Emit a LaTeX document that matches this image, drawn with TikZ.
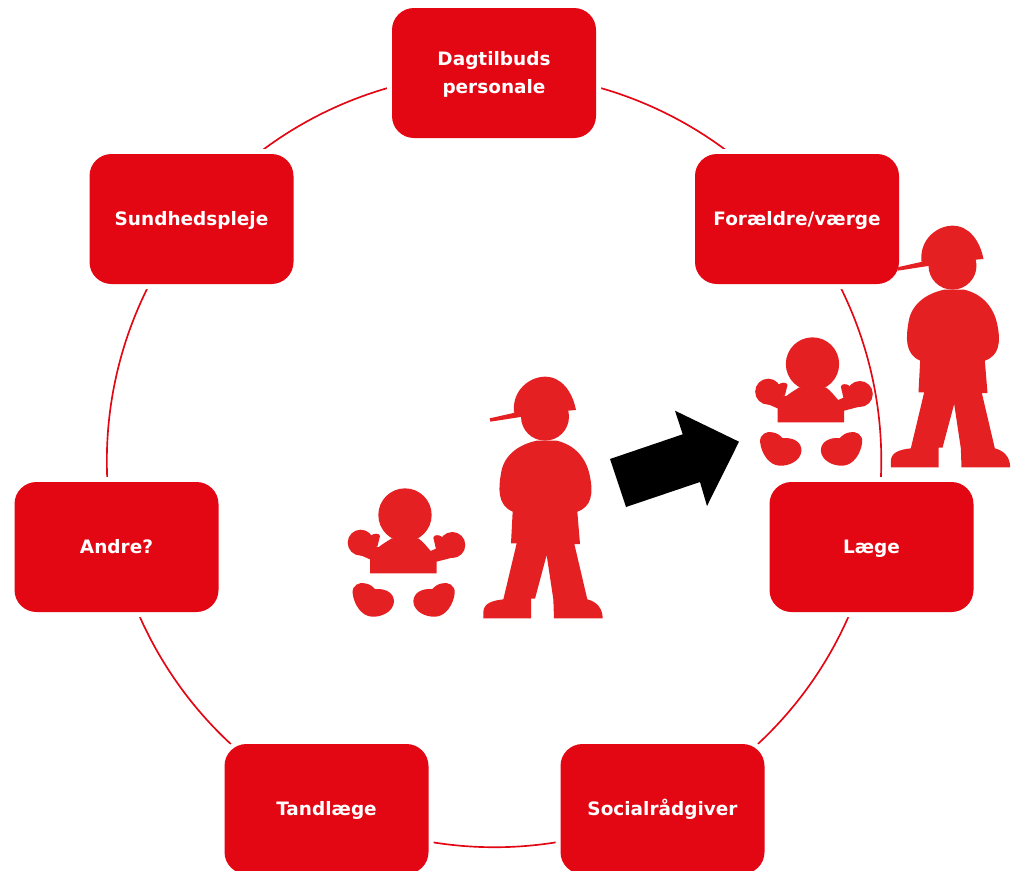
\documentclass[tikz,border=0pt]{standalone}
\usepackage{fontspec}
\setmainfont{DejaVu Sans}
\definecolor{boxred}{HTML}{E30613}
\definecolor{figred}{HTML}{E52022}
\newcommand\roleline[1]{\raisebox{0pt}[11.5pt][2.5pt]{#1}}
\tikzset{
  x=.75pt,y=-.75pt,
  rolebox/.style={rectangle,rounded corners=16.5pt,fill=boxred,text=white,
    minimum width=153pt,minimum height=97.5pt,inner sep=0pt,align=center,
    font=\fontsize{13.85pt}{21pt}\selectfont\bfseries,
    preaction={draw=white,line width=7.5pt}},
  ringline/.style={draw=boxred,line width=1.25pt,bend left=25.7,looseness=.897},
  family/.pic={
    \begin{scope}[x=.25pt,y=-.25pt]
      \fill[figred] (449,145)--(525,128)--(548,128)--(548,140)--(451,155)--cycle;
      \fill[figred] (522,128) .. controls (515,60) and (570,20) .. (615,20)
        .. controls (665,20) and (697,65) .. (708,120) -- (685,122) -- (545,130) -- cycle;
      \fill[figred] (615,140) circle[radius=72];
      \fill[figred] (590,212) .. controls (530,225) and (490,260) .. (483,310)
        .. controls (476,350) and (470,405) .. (518,425) -- (513,520) -- (530,520)
        -- (490,688) .. controls (455,692) and (432,700) .. (430,725)
        -- (430,745) -- (573,745) -- (573,686) -- (585,686) -- (620,555) -- (640,688)
        -- (642,745) -- (788,745) .. controls (788,715) and (770,695) .. (742,688)
        -- (703,522) -- (720,522) -- (712,425)
        .. controls (755,410) and (760,370) .. (750,320)
        .. controls (740,265) and (705,225) .. (650,212) -- cycle;
      \fill[figred] (195,435) circle[radius=80];
      \fill[figred] (62,518) circle[radius=39];
      \fill[figred] (337,525) circle[radius=39];
      \fill[figred] (90,610) -- (90,568) -- (60,555) -- (98,525) -- (115,532)
        .. controls (130,520) and (145,512) .. (155,505) -- (235,505)
        .. controls (250,515) and (262,532) .. (272,543) -- (290,535) -- (330,530) -- (340,562)
        -- (290,575) -- (290,610) -- cycle;
      \fill[figred] (92,497) .. controls (100,490) and (118,488) .. (120,498)
        -- (112,530) -- (92,530) -- cycle;
      \fill[figred] (305,500) .. controls (298,494) and (282,493) .. (280,503)
        -- (288,537) -- (320,530) -- cycle;
      \fill[figred] (38,670) .. controls (35,645) and (60,635) .. (75,640)
        .. controls (90,642) and (98,650) .. (105,657)
        .. controls (140,655) and (162,670) .. (162,695)
        .. controls (160,725) and (125,742) .. (95,740)
        .. controls (65,738) and (42,705) .. (38,670) -- cycle;
      \fill[figred] (344,670) .. controls (347,645) and (322,635) .. (307,640)
        .. controls (292,642) and (284,650) .. (277,657)
        .. controls (242,655) and (220,670) .. (220,695)
        .. controls (222,725) and (257,742) .. (287,740)
        .. controls (317,738) and (340,705) .. (344,670) -- cycle;
    \end{scope}}
}
\begin{document}
\begin{tikzpicture}
\useasboundingbox (0,0) rectangle (1015,871);
\clip (0,0) rectangle (1015,871);
\coordinate (dagc) at (494,73);
\coordinate (forc) at (797,219);
\coordinate (laec) at (871.5,547);
\coordinate (socc) at (662.5,809);
\coordinate (tanc) at (326.5,809);
\coordinate (andc) at (116.5,547);
\coordinate (sunc) at (191.5,219);
\draw[ringline] (dagc) to (forc);
\draw[ringline] (forc) to (laec);
\draw[ringline] (laec) to (socc);
\draw[ringline] (socc) to (tanc);
\draw[ringline] (tanc) to (andc);
\draw[ringline] (andc) to (sunc);
\draw[ringline] (sunc) to (dagc);
\node[rolebox] (dag) at (dagc) {\roleline{Dagtilbuds}\\\roleline{personale}};
\node[rolebox] (for) at (forc) {\roleline{Forældre/værge}};
\node[rolebox] (lae) at (laec) {\roleline{Læge}};
\node[rolebox] (soc) at (socc) {\roleline{Socialrådgiver}};
\node[rolebox] (tan) at (tanc) {\roleline{Tandlæge}};
\node[rolebox] (and) at (andc) {\roleline{Andre?}};
\node[rolebox] (sun) at (sunc) {\roleline{Sundhedspleje}};
\pic at (340,370) {family};
\pic at (747.5,219) {family};
\fill[black] (610,459) -- (682.7,434.3) -- (675,410.7) -- (739,441.7) -- (707,506) -- (700,482) -- (626,507) -- cycle;
\end{tikzpicture}
\end{document}
